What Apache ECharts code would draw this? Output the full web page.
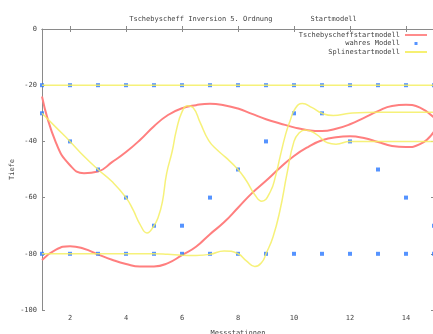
<!DOCTYPE html>
<html>
<head>
<meta charset="utf-8">
<script src="https://cdn.jsdelivr.net/npm/echarts@6/dist/echarts.min.js"></script>
<style>html,body{margin:0;padding:0;background:#fff}#c{width:433px;height:334px}</style>
</head>
<body>
<div id="c"></div>
<script>
// ---- data ----
const titleText = 'Tschebyscheff Inversion 5. Ordnung         Startmodell';
const xTickLabels = [2, 4, 6, 8, 10, 12, 14];
const yTickMin = -100, yTickMax = 0, yTickStep = 20;

// true model (blue points)
const stations = [1, 2, 3, 4, 5, 6, 7, 8, 9, 10, 11, 12, 13, 14, 15];
const trueTop    = [-20, -20, -20, -20, -20, -20, -20, -20, -20, -20, -20, -20, -20, -20, -20];
const trueMiddle = [-30, -40, -50, -60, -70, -70, -60, -50, -40, -30, -30, -40, -50, -60, -70];
const trueBottom = [-80, -80, -80, -80, -80, -80, -80, -80, -80, -80, -80, -80, -80, -80, -80];

// Chebyshev start model (red curves), read every half station
const chebX     = [1, 1.5, 2, 2.5, 3, 3.5, 4, 4.5, 5, 5.5, 6, 6.5, 7, 7.5, 8, 8.5, 9, 9.5, 10, 10.5, 11, 11.5, 12, 12.5, 13, 13.5, 14, 14.5, 15];
const chebUpper = [-24, -40.5, -48.5, -51.3, -50.7, -47.4, -43.8, -39.5, -34.6, -30.6, -28.2, -27.1, -26.6, -27.1, -28.3, -30.2, -32.1, -33.6, -35, -36, -36.3, -35.5, -33.9, -31.6, -29.2, -27.4, -27, -28, -31.5];
const chebLower = [-82.2, -78.5, -77.3, -78.2, -80.2, -82.1, -83.6, -84.5, -84.5, -83.3, -80.5, -77.5, -73, -68.8, -63.6, -58.4, -54, -49.4, -45.2, -42, -39.6, -38.5, -38.2, -38.8, -40.2, -41.6, -42, -41, -36.5];

// spline start model (yellow curves)
const splineTopX = [1, 15];
const splineTopY = [-20, -20];
const splineMidX = [1, 1.5, 2, 2.5, 3, 3.5, 4, 4.25, 4.5, 4.75, 5, 5.15, 5.3, 5.45, 5.65, 5.8, 6, 6.2, 6.4, 6.65, 6.95, 7.25, 7.55, 8, 8.3, 8.6, 8.85, 9.15, 9.35, 9.5, 9.7, 9.85, 10.05, 10.3, 10.65, 11, 11.4, 12, 13, 14, 15];
const splineMidY = [-30, -35, -40, -45.3, -50, -54.3, -60, -64.3, -69.5, -72.6, -70, -67, -61.5, -51.5, -43.5, -36, -29.5, -27.3, -28, -33.3, -39.6, -43, -45.6, -50, -54, -59, -61.3, -58, -52, -45.6, -37.5, -33, -28.2, -26.5, -28, -30, -30.8, -30, -29.6, -29.6, -29.6];
const splineLowX = [1, 2, 3, 4, 5, 5.5, 6, 6.5, 7, 7.5, 8, 8.3, 8.6, 8.85, 9, 9.25, 9.5, 9.75, 10, 10.2, 10.4, 10.8, 11.2, 11.5, 12, 13, 14, 15];
const splineLowY = [-80, -80, -80, -80, -80, -80.2, -80.5, -80.6, -80.2, -79, -80, -82.5, -84.5, -83, -80, -74, -64.5, -51.5, -40, -36.8, -35.9, -37.5, -40.5, -41, -40, -40, -40, -40];

// ---- build chart ----
const pairs = (xs, ys) => xs.map((x, i) => [x, ys[i]]);
const FONT = 'DejaVu Sans Mono';
const TXT = '#444';
const AX = '#8a8a8a';
const RED = '#ff7f7f';
const YEL = '#f5ef62';
const BLUE = '#2a78ff';
const LINE_ICON = 'path://M0,0M22,8M0,3.1h22v1.8h-22z';
const POINT_ICON = 'path://M0,0M22,8M9.5,2.5h3v3h-3z';

const chart = echarts.init(document.getElementById('c'), null, {renderer: 'canvas'});

const lineSeries = (name, data, color, width, z, opacity) => ({
  name, type: 'line', data, smooth: true, symbol: 'none', showSymbol: false,
  lineStyle: {color, width, opacity: opacity}, itemStyle: {color}, z: z
});

chart.setOption({
  animation: false,
  backgroundColor: '#fff',
  title: {
    text: titleText, left: 238, top: 11, textAlign: 'center',
    textStyle: {fontFamily: FONT, fontSize: 7, fontWeight: 'normal', color: TXT}
  },
  legend: {
    orient: 'vertical', right: 6, top: 31, align: 'right', padding: 0,
    itemWidth: 22, itemHeight: 8, itemGap: 0.5,
    textStyle: {fontFamily: FONT, fontSize: 7, color: TXT},
    data: [
      {name: 'Tschebyscheffstartmodell', icon: LINE_ICON},
      {name: 'wahres Modell', icon: POINT_ICON},
      {name: 'Splinestartmodell', icon: LINE_ICON}
    ]
  },
  grid: {left: 42, top: 29, width: 392, height: 281, outerBoundsMode: 'none', containLabel: false},
  xAxis: [{
    type: 'value', min: 1, max: 15, position: 'bottom',
    name: 'Messstationen', nameLocation: 'middle', nameGap: 20,
    nameTextStyle: {fontFamily: FONT, fontSize: 7, color: TXT},
    axisLine: {show: true, lineStyle: {color: AX, width: 1}},
    axisTick: {show: true, inside: true, length: 3, customValues: xTickLabels, lineStyle: {color: AX}},
    axisLabel: {customValues: xTickLabels, fontFamily: FONT, fontSize: 7, color: TXT, margin: 5},
    splitLine: {show: false}
  }, {
    type: 'value', min: 1, max: 15, position: 'top',
    axisLine: {show: true, lineStyle: {color: AX, width: 1}},
    axisTick: {show: true, inside: true, length: 3, customValues: xTickLabels, lineStyle: {color: AX}},
    axisLabel: {show: false},
    splitLine: {show: false}
  }],
  yAxis: [{
    type: 'value', min: yTickMin, max: yTickMax, interval: yTickStep, position: 'left',
    name: 'Tiefe', nameLocation: 'middle', nameGap: 26, nameRotate: 90, nameMoveOverlap: false,
    nameTextStyle: {fontFamily: FONT, fontSize: 7, color: TXT},
    axisLine: {show: true, lineStyle: {color: AX, width: 1}},
    axisTick: {show: true, inside: true, length: 3, lineStyle: {color: AX}},
    axisLabel: {fontFamily: FONT, fontSize: 7, color: TXT, margin: 5},
    splitLine: {show: false}
  }, {
    type: 'value', min: yTickMin, max: yTickMax, interval: yTickStep, position: 'right',
    axisLine: {show: true, lineStyle: {color: AX, width: 1}},
    axisTick: {show: true, inside: true, length: 3, lineStyle: {color: AX}},
    axisLabel: {show: false},
    splitLine: {show: false}
  }],
  series: [
    lineSeries('Tschebyscheffstartmodell', pairs(chebX, chebUpper), RED, 2, 2, 1),
    lineSeries('Tschebyscheffstartmodell', pairs(chebX, chebLower), RED, 2, 2, 1),
    {name: 'wahres Modell', type: 'scatter', symbol: 'rect', symbolSize: 4,
     itemStyle: {color: BLUE}, z: 3,
     data: pairs(stations, trueTop).concat(pairs(stations, trueMiddle), pairs(stations, trueBottom))},
    lineSeries('Splinestartmodell', pairs(splineTopX, splineTopY), YEL, 1.5, 4, 0.85),
    lineSeries('Splinestartmodell', pairs(splineMidX, splineMidY), YEL, 1.5, 4, 0.85),
    lineSeries('Splinestartmodell', pairs(splineLowX, splineLowY), YEL, 1.5, 4, 0.85)
  ]
});
</script>
</body>
</html>
